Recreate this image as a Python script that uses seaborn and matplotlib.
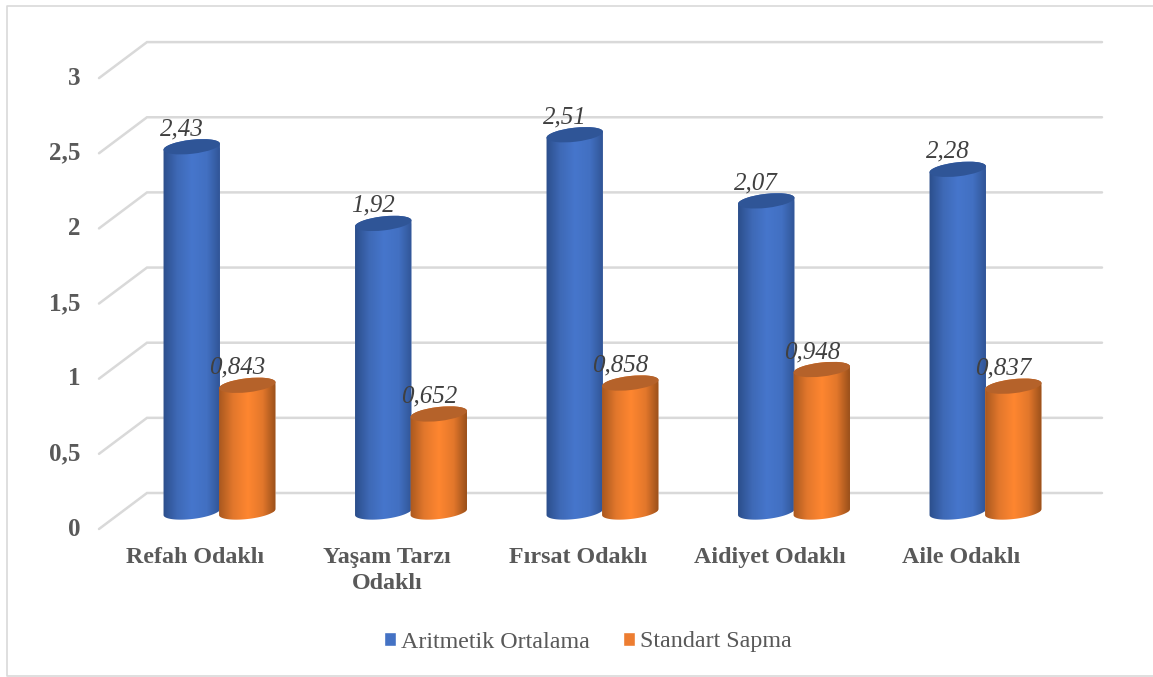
import numpy as np
import pandas as pd
import matplotlib
matplotlib.use("Agg")
import matplotlib.pyplot as plt
import seaborn as sns
from matplotlib.colors import LinearSegmentedColormap
from matplotlib.lines import Line2D
from matplotlib.patches import Ellipse
from matplotlib.path import Path
from matplotlib.transforms import IdentityTransform

categories = ["Refah Odaklı", "Yaşam Tarzı\nOdaklı", "Fırsat Odaklı", "Aidiyet Odaklı", "Aile Odaklı"]
series_names = ["Aritmetik Ortalama", "Standart Sapma"]
mean_values = [2.43, 1.92, 2.51, 2.07, 2.28]
sd_values = [0.843, 0.652, 0.858, 0.948, 0.837]
y_ticks = [0, 0.5, 1, 1.5, 2, 2.5, 3]
y_tick_labels = ["0", "0,5", "1", "1,5", "2", "2,5", "3"]

W, H = 1153, 677
sns.set_theme(style="white")
plt.rcParams["font.family"] = ["Liberation Serif", "DejaVu Serif"]

TXT = "#595959"
GRID = "#D9D9D9"
legend_colors = ["#4472C4", "#ED7D31"]
top_colors = ["#2F5597", "#B5622A"]
ramps = [["#2A4C88", "#3E69B6", "#4676CC", "#4270C2", "#2E5190"],
         ["#A5561E", "#E2772C", "#FF8630", "#E2772B", "#8E4A18"]]

df = pd.DataFrame({
    "Kategori": categories * 2,
    "Seri": [series_names[0]] * 5 + [series_names[1]] * 5,
    "Deger": mean_values + sd_values,
})

fig = plt.figure(figsize=(W / 100, H / 100), dpi=100)
fig.patch.set_facecolor("white")
L, R, T, B = 99, 1102, 42, 530
ax = fig.add_axes([L / W, 1 - B / H, (R - L) / W, (B - T) / H])
ax.patch.set_alpha(0)

sns.barplot(data=df, x="Kategori", y="Deger", hue="Seri", palette=legend_colors,
            saturation=1, width=0.58, gap=0, dodge=True, ax=ax, legend=True, zorder=3)

# Scales: 191.5 px per category, 150.3 px per unit, baseline at y px 512
cat_px, unit_px, x0_px, base_px = 191.5, 150.3, 219.5, 512
xlim = ((L - x0_px) / cat_px, (R - x0_px) / cat_px)
ylim = ((base_px - B) / unit_px, (base_px - T) / unit_px)
ax.set_xlim(xlim)
ax.set_ylim(ylim)

# Perspective grid: back wall plus the slanted side wall
back_off = 19 / unit_px
front_off = -17 / unit_px
label_off = -14.5 / unit_px
x_back = (147 - x0_px) / cat_px
for v in y_ticks:
    ax.plot([xlim[0], x_back, xlim[1]], [v + front_off, v + back_off, v + back_off],
            color=GRID, lw=1.8, zorder=1, solid_joinstyle="miter", clip_on=False)

sns.despine(ax=ax, left=True, bottom=True)
ax.set_xlabel("")
ax.set_ylabel("")
ax.set_yticks(np.array(y_ticks) + label_off, y_tick_labels)
ax.tick_params(axis="y", length=0, pad=13.5, labelsize=18, labelcolor=TXT)
ax.set_xticks(np.arange(len(categories)) - 24 / cat_px, categories)
ax.tick_params(axis="x", length=0, pad=12.5, labelsize=17.3, labelcolor=TXT)
for lab in ax.get_yticklabels() + ax.get_xticklabels():
    lab.set_fontweight("bold")
for lab in ax.get_xticklabels():
    lab.set_linespacing(1.3)
ax.set_xlim(xlim)
ax.set_ylim(ylim)
ax.grid(False)

# Cylinders built on the seaborn bars
theta = np.deg2rad(6.5)
b = 7.0


def arc(cx, cy, a, t):
    return np.column_stack([cx + a * np.cos(t) * np.cos(theta) - b * np.sin(t) * np.sin(theta),
                            cy + a * np.cos(t) * np.sin(theta) + b * np.sin(t) * np.cos(theta)])


z = 4
items = []
for s, cont in enumerate(ax.containers):
    for i, rect in enumerate(cont.patches):
        items.append((i, s, rect))
for i, s, rect in sorted(items, key=lambda q: (q[0], q[1])):
    x, w, h = rect.get_x(), rect.get_width(), rect.get_height()
    (px0, py0), (px1, py1) = ax.transData.transform([(x, 0), (x + w, h)])
    a = (px1 - px0) / 2 + 0.6
    cx = (px0 + px1) / 2
    t0 = -np.arctan2(b * np.sin(theta), a * np.cos(theta))
    upper = arc(cx, py1, a, np.linspace(t0, t0 + np.pi, 60))
    lower = arc(cx, py0, a, np.linspace(t0 + np.pi, t0 + 2 * np.pi, 60))
    verts = np.vstack([upper, lower, upper[:1]])
    body = Path(verts, closed=True)
    rect.set_zorder(z)
    rect.set_clip_path(body, IdentityTransform())
    cmap = LinearSegmentedColormap.from_list("c", ramps[s])
    im = ax.imshow(np.linspace(0, 1, 128)[None, :], cmap=cmap, aspect="auto",
                   extent=(x - 0.01, x + w + 0.01, ylim[0], h + 0.05), zorder=z + 0.1,
                   interpolation="bilinear", origin="lower")
    im.set_clip_path(body, IdentityTransform())
    ax.add_patch(Ellipse((cx, py1), 2 * a, 2 * b, angle=np.rad2deg(theta),
                         transform=IdentityTransform(), facecolor=top_colors[s],
                         edgecolor="none", zorder=z + 0.2, clip_on=False))
    txt = f"{h:.3f}" if s == 1 else f"{h:.2f}"
    ax.annotate(txt.replace(".", ","), xy=(x + w / 2, h), xytext=(-7.2, 12.6),
                textcoords="offset points", ha="center", va="center", fontsize=18,
                style="italic", color="#404040", zorder=50)
    z += 1
ax.set_xlim(xlim)
ax.set_ylim(ylim)

# Legend
handles, labels = ax.get_legend_handles_labels()
if ax.get_legend() is not None:
    ax.get_legend().remove()
fig.legend(handles, labels, loc="center", bbox_to_anchor=(588 / W, 1 - 642 / H), ncol=2,
           frameon=False, fontsize=17.3, labelcolor=TXT, handlelength=0.5, handleheight=0.5,
           handletextpad=0.21, columnspacing=1.38, borderpad=0)

# Chart frame (open on the right, as in the source)
fx = lambda p: p / W
fy = lambda p: 1 - p / H
fig.add_artist(Line2D([1, fx(6.5), fx(6.5), 1], [fy(5.5), fy(5.5), fy(676), fy(676)],
                      color=GRID, lw=1.2, transform=fig.transFigure))

fig.savefig("out.png", dpi=100)
